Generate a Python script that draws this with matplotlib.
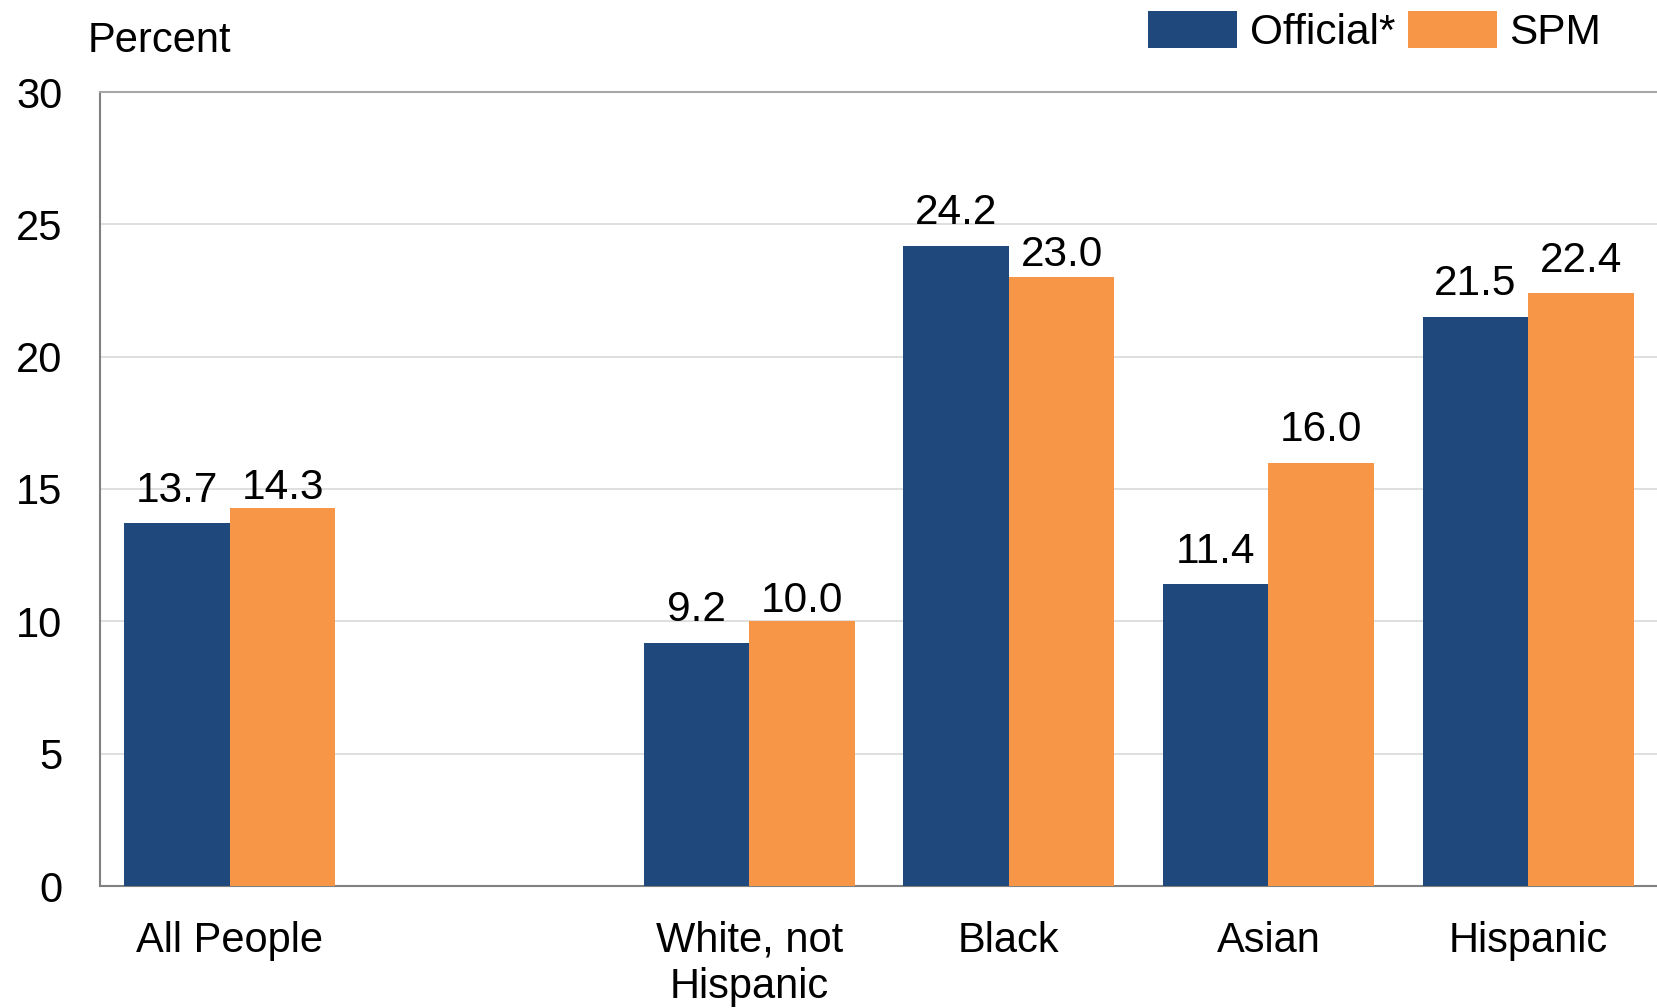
import matplotlib
matplotlib.use("Agg")
import matplotlib.pyplot as plt
import numpy as np
from matplotlib.patches import Patch

categories = ["All People", "", "White, not\nHispanic", "Black", "Asian", "Hispanic"]
official = [13.7, np.nan, 9.2, 24.2, 11.4, 21.5]
spm = [14.3, np.nan, 10.0, 23.0, 16.0, 22.4]
series_names = ["Official*", "SPM"]
yticks = [0, 5, 10, 15, 20, 25, 30]

# label offsets (points) above bars; some SPM labels sit closer in the original
official_label_pad = [9, 9, 9, 9, 9, 9]
spm_label_pad = [0, 9, 0, 1.5, 9, 9]

NAVY = "#1F497D"
ORANGE = "#F79646"

plt.rcParams["font.family"] = ["Liberation Sans", "DejaVu Sans"]

fig = plt.figure(figsize=(16.58, 10.08), dpi=100)
ax = fig.add_axes([100/1658, 1-886/1008, 1-100/1658, (886-92)/1008])

x = np.arange(len(categories))
w = 0.406
b1 = ax.bar(x - w/2, official, width=w, color=NAVY, zorder=3)
b2 = ax.bar(x + w/2, spm, width=w, color=ORANGE, zorder=3)

for bars, vals, pads in ((b1, official, official_label_pad), (b2, spm, spm_label_pad)):
    for rect, v, p in zip(bars, vals, pads):
        if np.isnan(v):
            continue
        ax.annotate(f"{v:.1f}", (rect.get_x() + rect.get_width()/2, v),
                    xytext=(0, p), textcoords="offset points",
                    ha="center", va="bottom", fontsize=30.5, color="black")

ax.set_xlim(-0.5, 5.5)
ax.set_ylim(0, 30)
ax.set_yticks(yticks)
ax.set_yticklabels([str(t) for t in yticks])
ax.set_xticks(x)
ax.set_xticklabels(categories, linespacing=1.2)
ax.tick_params(axis="y", length=0, pad=27, labelsize=30)
ax.tick_params(axis="x", length=0, pad=25, labelsize=30)

ax.grid(axis="y", color="#D9D9D9", linewidth=1.2, zorder=0)
ax.set_axisbelow(True)
ax.spines["right"].set_visible(False)
ax.spines["left"].set_color("#808080")
ax.spines["left"].set_linewidth(1.5)
ax.spines["bottom"].set_color("#808080")
ax.spines["bottom"].set_linewidth(1.5)
ax.spines["top"].set_color("#A6A6A6")
ax.spines["top"].set_linewidth(1.5)

fig.text(88/1658, 1-41/1008, "Percent", fontsize=30, ha="left", va="center")

handles = [Patch(facecolor=NAVY), Patch(facecolor=ORANGE)]
fig.legend(handles, series_names, loc="center left",
           bbox_to_anchor=(1148/1658, 1-32/1008), ncol=2, frameon=False,
           fontsize=30.5, handlelength=2.1, handleheight=0.95,
           handletextpad=0.3, columnspacing=0.3, borderpad=0, borderaxespad=0)

fig.savefig("out.png", dpi=100)
